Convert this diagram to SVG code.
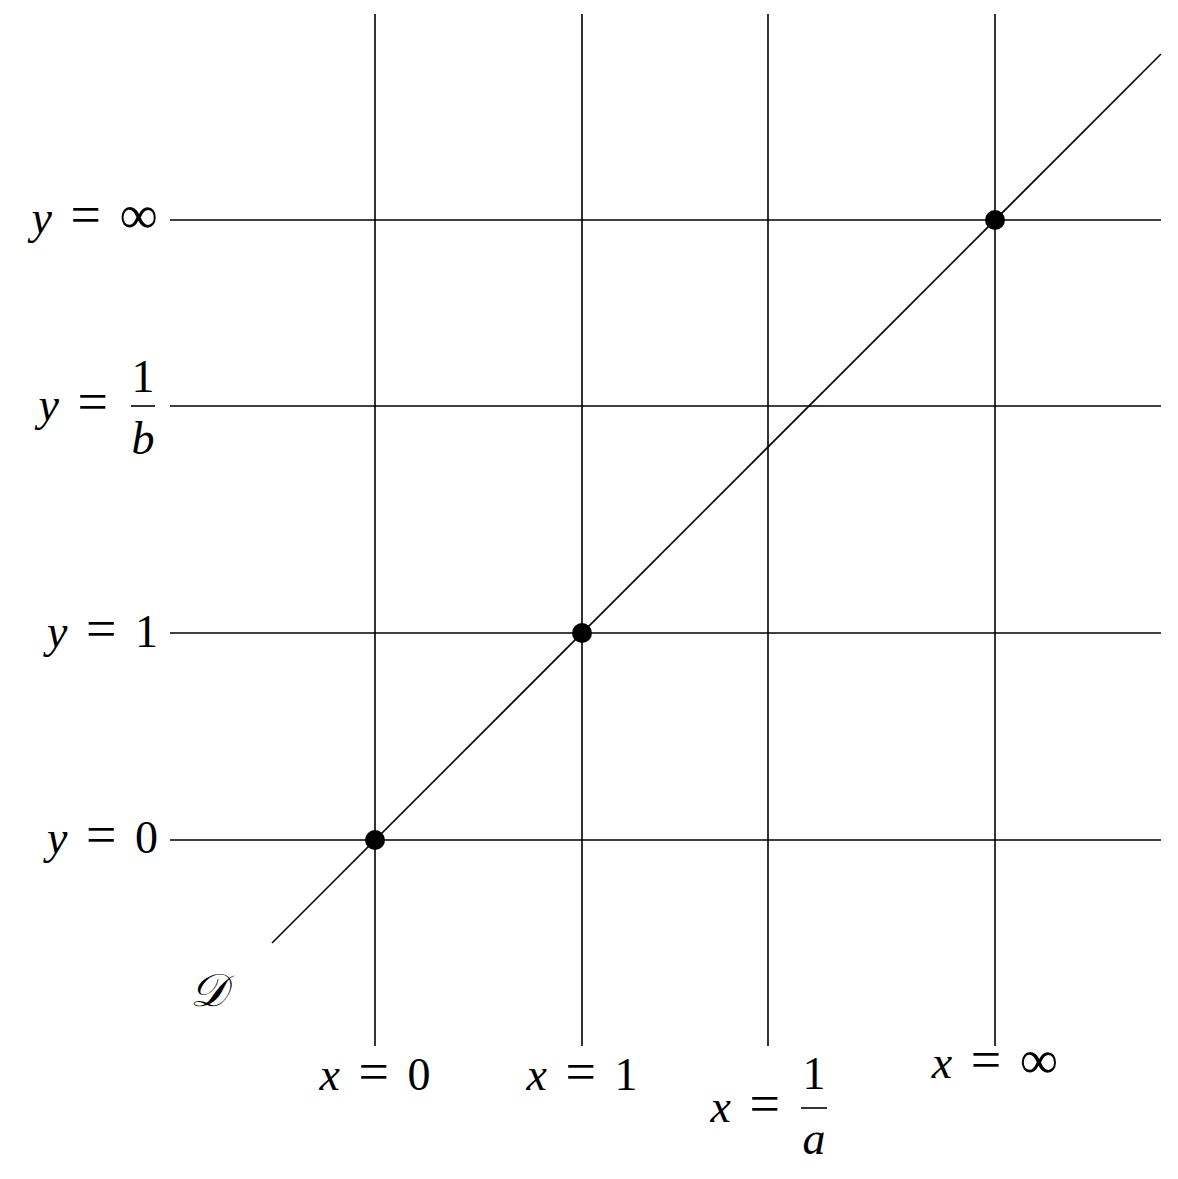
<svg xmlns="http://www.w3.org/2000/svg" width="1178" height="1179" viewBox="0 0 1178 1179">
<style>
.ln{stroke:#000;stroke-width:1.6;fill:none}
.t{font-family:"Liberation Serif","DejaVu Serif",serif;font-size:46px;fill:#000;word-spacing:7px}
.i{font-style:italic}
.eq{font-size:54px}
.dot{fill:#000}
</style>
<rect width="1178" height="1179" fill="#fff"/>
<g id="connectors">
<line class="ln" x1="375" y1="14" x2="375" y2="1046"/>
<line class="ln" x1="582" y1="14" x2="582" y2="1046"/>
<line class="ln" x1="768" y1="14" x2="768" y2="1046"/>
<line class="ln" x1="995" y1="14" x2="995" y2="1046"/>
<line class="ln" x1="170" y1="220" x2="1161" y2="220"/>
<line class="ln" x1="170" y1="406" x2="1161" y2="406"/>
<line class="ln" x1="170" y1="633" x2="1161" y2="633"/>
<line class="ln" x1="170" y1="840" x2="1161" y2="840"/>
<line class="ln" x1="272" y1="943" x2="1161" y2="54"/>
</g>
<g id="p0"><circle class="dot" cx="375" cy="840" r="10"/></g>
<g id="p1"><circle class="dot" cx="582" cy="633" r="10"/></g>
<g id="pinf"><circle class="dot" cx="995" cy="220" r="10"/></g>
<g id="label-yinf"><text class="t" x="158" y="233" text-anchor="end"><tspan class="i">y</tspan> <tspan class="eq">=</tspan> <tspan font-size="54">∞</tspan></text></g>
<g id="label-y1b">
<text class="t" x="108" y="420" text-anchor="end"><tspan class="i">y</tspan> <tspan class="eq">=</tspan></text>
<text class="t" x="143" y="392" text-anchor="middle">1</text>
<line class="ln" x1="131" y1="406" x2="155" y2="406" stroke-width="2"/>
<text class="t i" x="143" y="454" text-anchor="middle">b</text>
</g>
<g id="label-y1"><text class="t" x="158" y="647" text-anchor="end"><tspan class="i">y</tspan> <tspan class="eq">=</tspan> 1</text></g>
<g id="label-y0"><text class="t" x="158" y="853" text-anchor="end"><tspan class="i">y</tspan> <tspan class="eq">=</tspan> 0</text></g>
<g id="label-D"><text class="t i" x="190" y="1006" font-size="40">𝒟</text></g>
<g id="label-x0"><text class="t" x="375" y="1090" text-anchor="middle"><tspan class="i">x</tspan> <tspan class="eq">=</tspan> 0</text></g>
<g id="label-x1"><text class="t" x="582" y="1090" text-anchor="middle"><tspan class="i">x</tspan> <tspan class="eq">=</tspan> 1</text></g>
<g id="label-x1a">
<text class="t" x="780" y="1122" text-anchor="end"><tspan class="i">x</tspan> <tspan class="eq">=</tspan></text>
<text class="t" x="814" y="1089" text-anchor="middle">1</text>
<line class="ln" x1="801" y1="1108" x2="827" y2="1108" stroke-width="2"/>
<text class="t i" x="814" y="1154" text-anchor="middle">a</text>
</g>
<g id="label-xinf"><text class="t" x="995" y="1078" text-anchor="middle"><tspan class="i">x</tspan> <tspan class="eq">=</tspan> <tspan font-size="54">∞</tspan></text></g>
</svg>
